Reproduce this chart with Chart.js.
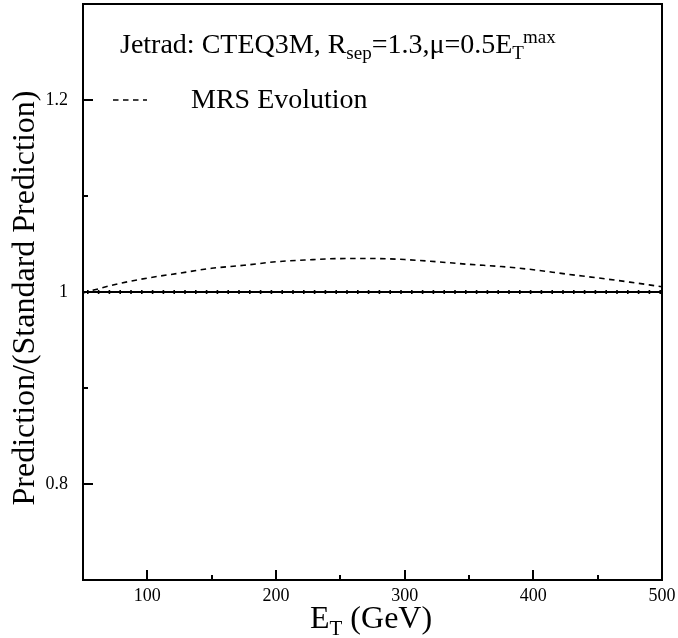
<!DOCTYPE html>
<html>
<head>
<meta charset="utf-8">
<script src="https://cdn.jsdelivr.net/npm/chart.js@4/dist/chart.umd.min.js"></script>
<style>
  html, body { margin: 0; padding: 0; background: #fff; }
  #wrap { width: 678px; height: 638px; }
</style>
</head>
<body>
<div id="wrap"><canvas id="ratioChart" width="678" height="638"></canvas></div>
<script>
// values
const energies = [50, 75, 100, 125, 150, 175, 200, 225, 250, 275, 300, 325, 350, 375, 400, 425, 450, 475, 500];
const mrsRatio = [0.999, 1.0078, 1.0145, 1.0196, 1.0247, 1.0278, 1.0315, 1.0335, 1.0348, 1.0349,
                  1.0338, 1.0315, 1.0288, 1.0265, 1.0232, 1.0188, 1.0147, 1.0103, 1.0055];
const standardEnergies = [50, 500];
const standardRatio = [1, 1];

const xMajorTicks = [100, 200, 300, 400, 500];
const xMinorTicks = [150, 250, 350, 450];
const yMajorTicks = [0.8, 1, 1.2];
const yMinorTicks = [0.9, 1.1];

const serif = "'Liberation Serif', 'DejaVu Serif', serif";

function toPoints(xs, ys) {
    return xs.map((x, i) => ({ x: x, y: ys[i] }));
}

// frame, inward ticks, texts with sub/superscripts
const decorations = {
    id: 'decorations',
    afterDraw(chart) {
        const ctx = chart.ctx;
        const area = chart.chartArea;
        const xs = chart.scales.x;
        const ys = chart.scales.y;
        ctx.save();
        ctx.strokeStyle = '#000';
        ctx.lineWidth = 2;
        ctx.strokeRect(area.left, area.top, area.right - area.left, area.bottom - area.top);

        ctx.beginPath();
        xMajorTicks.forEach(v => {
            const px = Math.round(xs.getPixelForValue(v));
            ctx.moveTo(px, area.bottom); ctx.lineTo(px, area.bottom - 10);
        });
        xMinorTicks.forEach(v => {
            const px = Math.round(xs.getPixelForValue(v));
            ctx.moveTo(px, area.bottom); ctx.lineTo(px, area.bottom - 5);
        });
        yMajorTicks.forEach(v => {
            const py = Math.round(ys.getPixelForValue(v));
            ctx.moveTo(area.left, py); ctx.lineTo(area.left + 10, py);
        });
        yMinorTicks.forEach(v => {
            const py = Math.round(ys.getPixelForValue(v));
            ctx.moveTo(area.left, py); ctx.lineTo(area.left + 5, py);
        });
        ctx.stroke();

        ctx.fillStyle = '#000';
        ctx.textBaseline = 'alphabetic';
        ctx.textAlign = 'left';

        // header line
        const big = '28px ' + serif;
        const small = '19px ' + serif;
        let x = 120, base = 53;
        const put = (txt, font, dy) => {
            ctx.font = font;
            ctx.fillText(txt, x, base + dy);
            x += ctx.measureText(txt).width;
        };
        put('Jetrad: CTEQ3M, R', big, 0);
        put('sep', small, 6);
        put('=1.3,\u03BC=0.5E', big, 0);
        put('T', small, 6);
        x -= 1;
        put('max', small, -10);

        // legend
        const mrs = chart.data.datasets[2];
        ctx.strokeStyle = mrs.borderColor;
        ctx.lineWidth = mrs.borderWidth;
        ctx.setLineDash(mrs.borderDash);
        ctx.beginPath();
        ctx.moveTo(113, 100); ctx.lineTo(147, 100);
        ctx.stroke();
        ctx.setLineDash([]);
        ctx.font = big;
        ctx.fillText(mrs.label, 191, 108);

        // x title
        x = 310; base = 628;
        put('E', '32px ' + serif, 0);
        put('T', '21px ' + serif, 7);
        put(' (GeV)', '32px ' + serif, 0);

        // y title
        ctx.translate(34, 298);
        ctx.rotate(-Math.PI / 2);
        ctx.textAlign = 'center';
        ctx.font = '32px ' + serif;
        ctx.fillText('Prediction/(Standard Prediction)', 0, 0);
        ctx.restore();
    }
};

new Chart(document.getElementById('ratioChart').getContext('2d'), {
    type: 'line',
    data: {
        datasets: [{
            label: 'Standard Prediction',
            data: toPoints(standardEnergies, standardRatio),
            borderColor: '#000',
            borderWidth: 2,
            pointRadius: 0,
            fill: false
        }, {
            label: 'Standard Prediction points',
            data: toPoints(standardEnergies, standardRatio),
            borderColor: '#000',
            borderWidth: 4,
            borderDash: [1.6, 9.2],
            borderDashOffset: -4,
            pointRadius: 0,
            fill: false
        }, {
            label: 'MRS Evolution',
            data: toPoints(energies, mrsRatio),
            borderColor: '#000',
            borderWidth: 1.6,
            borderDash: [5.5, 4.5],
            pointRadius: 0,
            cubicInterpolationMode: 'monotone',
            fill: false
        }]
    },
    options: {
        responsive: false,
        animation: false,
        layout: { padding: { top: 4, right: 16, left: 0, bottom: 0 } },
        plugins: {
            legend: { display: false },
            tooltip: { enabled: false }
        },
        scales: {
            x: {
                type: 'linear',
                min: 50,
                max: 500,
                afterFit: s => { s.height = 58; s.paddingLeft = 0; s.paddingRight = 0; },
                afterBuildTicks: s => { s.ticks = xMajorTicks.map(v => ({ value: v })); },
                grid: { display: false, drawTicks: false },
                border: { display: false },
                ticks: {
                    color: '#000',
                    padding: 5,
                    maxRotation: 0,
                    font: { family: serif, size: 18 },
                    callback: v => String(v)
                }
            },
            y: {
                type: 'linear',
                min: 0.7,
                max: 1.3,
                afterFit: s => { s.width = 83; s.paddingTop = 0; s.paddingBottom = 0; },
                afterBuildTicks: s => { s.ticks = yMajorTicks.map(v => ({ value: v })); },
                grid: { display: false, drawTicks: false },
                border: { display: false },
                ticks: {
                    color: '#000',
                    padding: 15,
                    font: { family: serif, size: 18 },
                    callback: v => String(v)
                }
            }
        }
    },
    plugins: [decorations]
});
</script>
</body>
</html>
